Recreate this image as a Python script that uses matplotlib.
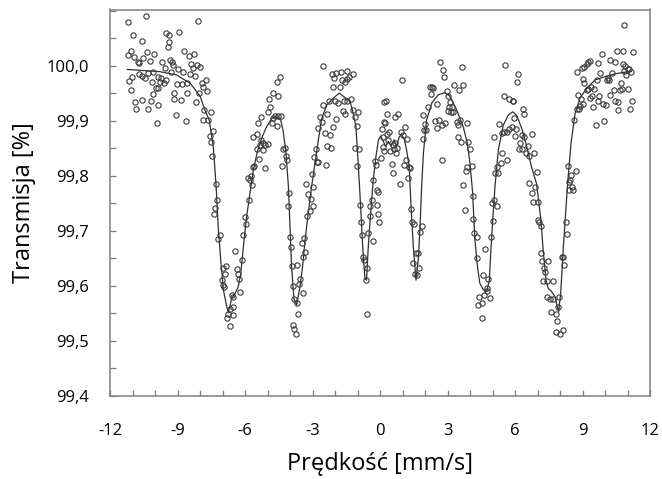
import matplotlib
matplotlib.use('Agg')
import matplotlib.pyplot as plt
from matplotlib.ticker import MultipleLocator, FuncFormatter
import numpy as np

v_a = [-11.19, -10.41, -8.07, -10.96, -9.51, -9.38, -8.93, -10.56, -9.39, -9.44,
       -8.71, -11.05, -11.19, -10.37, -10.03, -10.92, -10.52, -8.47, -8.25, -10.77,
       -10.70, -10.24, -9.67, -9.35, -9.26, -9.19, -8.39, -8.15, -8.00, -8.33,
       -9.56, -8.96, -8.74, -8.44, -8.21, -9.30, -10.07, -10.33, -10.71, -10.56,
       -10.46, -11.01, -11.16, -9.88, -9.73, -9.51, -9.78, -9.59, -10.15, -9.02,
       -8.80, -8.56, -7.93, -7.85, -9.97, -9.85, -10.10, -11.08, -9.16, -8.56,
       -8.03, -10.87, -10.59, -10.18, -9.14, -8.86, -8.18, -10.83, -10.30, -9.87,
       -9.07, -8.62, -7.85, -9.93]
t_a = [100.080, 100.091, 100.082, 100.055, 100.060, 100.056, 100.062, 100.044, 100.043, 100.033,
       100.027, 100.027, 100.019, 100.025, 100.021, 100.015, 100.013, 100.018, 100.021, 100.007,
       100.004, 100.008, 100.007, 100.010, 100.006, 100.002, 100.003, 100.001, 99.997, 99.995,
       99.995, 99.994, 99.989, 99.985, 99.982, 99.989, 99.988, 99.986, 99.984, 99.981,
       99.978, 99.980, 99.972, 99.980, 99.977, 99.974, 99.971, 99.969, 99.970, 99.967,
       99.967, 99.968, 99.968, 99.961, 99.959, 99.959, 99.948, 99.955, 99.951, 99.951,
       99.950, 99.933, 99.937, 99.935, 99.939, 99.938, 99.933, 99.922, 99.921, 99.928,
       99.910, 99.900, 99.902, 99.895]

v_b = [-7.73, -7.70, -7.82, -7.51, -7.64, -7.41, -7.56, -7.51, -7.47, -7.29,
       -7.26, -7.33, -7.36, -7.11, -7.19, -6.96, -6.84, -7.04, -6.89, -6.99,
       -6.93, -6.44, -6.37, -6.30, -6.25, -6.22, -6.59, -6.52, -6.52, -6.67,
       -6.74, -6.79, -6.52, -6.67, -6.07, -6.15, -5.97, -6.00, -5.81, -5.78,
       -5.85, -5.70, -5.75, -5.63, -5.59, -5.36, -5.48, -5.66, -5.45, -5.27,
       -5.19, -5.33, -5.21, -5.11, -4.99, -5.11, -5.41, -5.29, -4.96, -4.89,
       -4.92, -4.74, -4.52, -4.59, -4.44, -4.81, -4.77, -4.67, -4.55, -4.40,
       -4.59, -4.33, -4.22, -4.18, -4.12, -4.36, -4.03, -4.07, -4.00, -3.97,
       -3.93, -3.88, -3.81, -3.88, -3.82]
t_b = [99.974, 99.953, 99.919, 99.916, 99.902, 99.882, 99.872, 99.862, 99.836, 99.785,
       99.755, 99.742, 99.730, 99.692, 99.685, 99.633, 99.635, 99.610, 99.621, 99.601,
       99.598, 99.663, 99.630, 99.622, 99.613, 99.589, 99.583, 99.579, 99.562, 99.557,
       99.548, 99.542, 99.547, 99.527, 99.692, 99.647, 99.712, 99.725, 99.756, 99.792,
       99.795, 99.783, 99.799, 99.816, 99.818, 99.830, 99.848, 99.870, 99.875, 99.865,
       99.860, 99.855, 99.847, 99.856, 99.858, 99.813, 99.896, 99.907, 99.915, 99.925,
       99.939, 99.951, 99.944, 99.971, 99.980, 99.895, 99.904, 99.908, 99.908, 99.908,
       99.890, 99.848, 99.850, 99.836, 99.828, 99.818, 99.768, 99.744, 99.688, 99.670,
       99.635, 99.599, 99.575, 99.528, 99.522]

v_c = [-3.70, -3.63, -3.73, -3.67, -3.56, -3.59, -3.44, -3.48, -3.38, -3.33,
       -3.41, -3.23, -3.11, -2.96, -3.08, -3.19, -3.29, -2.99, -3.04, -2.93,
       -2.81, -2.84, -2.74, -2.40, -2.37, -2.19, -2.44, -2.22, -2.07, -2.74,
       -2.67, -2.59, -2.34, -1.96, -2.52, -2.25, -2.00, -1.85, -1.63, -1.56,
       -1.60, -1.45, -1.29, -1.19, -0.96, -1.11, -2.07, -1.78, -1.70, -1.56,
       -1.45, -1.36, -1.19, -1.45, -1.75, -1.96, -2.15, -2.03, -2.55, -1.04,
       -1.11, -0.92, -1.01, -0.89, -0.84, -0.79, -0.74, -0.70, -0.56, -0.62,
       -0.59, -0.52, -0.44, -0.37, -0.44, -0.33, -0.30, -0.15, -0.10, -0.15,
       -0.07, -0.03, -0.22, -0.18, 0.03, 0.12, 0.07, 0.19, 0.19]
t_c = [99.568, 99.548, 99.513, 99.638, 99.612, 99.603, 99.587, 99.677, 99.686, 99.662,
       99.653, 99.727, 99.736, 99.745, 99.757, 99.767, 99.785, 99.780, 99.803, 99.833,
       99.825, 99.848, 99.824, 99.819, 99.853, 99.850, 99.877, 99.874, 99.888, 99.886,
       99.907, 99.898, 99.912, 99.903, 99.928, 99.935, 99.935, 99.932, 99.918, 99.912,
       99.936, 99.936, 99.939, 99.919, 99.916, 99.906, 99.962, 99.962, 99.974, 99.971,
       99.975, 99.979, 99.984, 99.991, 99.988, 99.986, 99.984, 99.977, 99.999, 99.890,
       99.850, 99.848, 99.818, 99.747, 99.715, 99.692, 99.652, 99.647, 99.632, 99.610,
       99.548, 99.696, 99.727, 99.755, 99.744, 99.682, 99.792, 99.774, 99.771, 99.747,
       99.730, 99.716, 99.827, 99.819, 99.832, 99.852, 99.884, 99.898, 99.933]

v_d = [0.27, 0.33, 0.22, 0.30, 0.41, 0.15, 0.37, 0.18, 0.44, 0.56,
       0.67, 0.62, 0.71, 0.77, 0.67, 0.81, 0.96, 0.92, 1.01, 1.11,
       1.19, 0.52, 0.56, 0.89, 1.07, 1.16, 1.30, 1.33, 1.26, 1.38,
       1.41, 1.51, 1.45, 1.60, 1.67, 1.56, 1.63, 1.75, 1.78, 1.85,
       1.90, 1.96, 2.04, 2.00, 1.90, 2.15, 2.22, 2.30, 2.34, 2.25,
       2.44, 2.52, 2.55, 2.64, 2.74, 2.89, 2.74, 2.67, 2.81, 2.86,
       2.96, 3.04, 3.11, 3.19, 3.08, 3.04, 3.16, 3.26, 3.29, 3.51,
       3.67, 3.63, 3.41, 3.56, 3.48, 3.85, 3.45, 3.59, 3.93, 4.00,
       4.07, 3.88, 3.82, 3.70, 4.12, 3.78, 4.15, 4.19]
t_d = [99.935, 99.912, 99.896, 99.876, 99.879, 99.871, 99.865, 99.845, 99.845, 99.856,
       99.859, 99.848, 99.842, 99.850, 99.907, 99.912, 99.974, 99.879, 99.874, 99.889,
       99.866, 99.821, 99.804, 99.785, 99.819, 99.828, 99.816, 99.813, 99.795, 99.739,
       99.716, 99.713, 99.641, 99.659, 99.659, 99.622, 99.619, 99.633, 99.698, 99.708,
       99.866, 99.883, 99.883, 99.893, 99.910, 99.925, 99.961, 99.962, 99.959, 99.948,
       99.900, 99.886, 99.930, 99.901, 99.892, 99.896, 99.828, 100.007, 99.992, 99.979,
       99.953, 99.945, 99.933, 99.925, 99.924, 99.918, 99.916, 99.915, 99.965, 99.956,
       99.965, 99.997, 99.898, 99.902, 99.892, 99.896, 99.870, 99.862, 99.862, 99.848,
       99.818, 99.816, 99.809, 99.783, 99.763, 99.738, 99.722, 99.695]

v_e = [4.30, 4.30, 4.56, 4.67, 4.41, 4.37, 4.52, 4.62, 4.74, 4.77,
       4.81, 4.89, 4.52, 4.92, 5.01, 4.96, 5.07, 5.21, 5.11, 5.19,
       5.26, 5.36, 5.41, 5.07, 5.30, 5.41, 5.51, 5.63, 5.66, 5.75,
       5.85, 5.97, 6.04, 6.00, 5.51, 5.75, 5.90, 5.93, 5.56, 6.15,
       6.10, 6.30, 6.40, 6.37, 6.40, 6.74, 6.22, 6.19, 6.30, 6.59,
       6.49, 6.64, 6.86, 6.96, 6.64, 6.89, 6.77, 6.81, 7.01, 7.04,
       7.08, 7.14, 7.16, 7.21, 7.48, 7.29, 7.33, 7.26, 7.41, 7.70,
       7.44, 7.56, 7.70, 7.97, 7.59, 7.82, 7.93, 7.88, 7.82, 8.00,
       8.12, 8.07, 8.15, 8.18]
t_e = [99.689, 99.650, 99.619, 99.666, 99.579, 99.564, 99.568, 99.583, 99.595, 99.591,
       99.613, 99.577, 99.541, 99.688, 99.718, 99.751, 99.755, 99.744, 99.805, 99.816,
       99.804, 99.823, 99.842, 99.871, 99.894, 99.877, 99.880, 99.880, 99.828, 99.884,
       99.889, 99.905, 99.884, 99.872, 99.944, 99.939, 99.936, 99.935, 100.001, 99.984,
       99.970, 99.874, 99.870, 99.921, 99.912, 99.876, 99.859, 99.848, 99.848, 99.853,
       99.841, 99.836, 99.842, 99.807, 99.787, 99.779, 99.769, 99.752, 99.752, 99.719,
       99.715, 99.708, 99.660, 99.644, 99.645, 99.633, 99.625, 99.609, 99.609, 99.609,
       99.579, 99.575, 99.575, 99.579, 99.553, 99.548, 99.561, 99.535, 99.515, 99.512,
       99.519, 99.652, 99.652, 99.638]

v_f = [8.30, 8.27, 8.40, 8.55, 8.34, 8.49, 8.44, 8.40, 8.70, 8.59,
       8.64, 8.74, 8.84, 8.81, 8.93, 9.04, 8.89, 9.19, 9.04, 9.08,
       8.77, 8.99, 9.08, 9.19, 9.26, 9.33, 9.70, 9.85, 9.78, 9.38,
       9.26, 9.33, 9.41, 9.53, 9.63, 9.73, 9.67, 9.48, 9.59, 9.93,
       10.03, 9.97, 10.12, 10.18, 10.07, 10.22, 10.44, 10.52, 10.81, 11.23,
       10.86, 10.33, 10.41, 10.22, 10.44, 10.56, 10.59, 10.67, 10.71, 10.74,
       11.01, 10.81, 10.89, 10.86, 11.01, 10.93, 11.16, 11.07, 11.21, 11.11]
t_f = [99.694, 99.716, 99.774, 99.780, 99.818, 99.801, 99.792, 99.789, 99.809, 99.774,
       99.901, 99.921, 99.922, 99.947, 99.939, 99.930, 99.926, 99.956, 99.975, 99.969,
       99.988, 99.995, 99.997, 100.003, 100.007, 100.009, 100.005, 100.021, 99.987, 99.962,
       99.957, 99.942, 99.945, 99.957, 99.974, 99.944, 99.935, 99.925, 99.892, 99.930,
       99.928, 99.900, 99.977, 99.974, 99.974, 100.011, 100.007, 100.027, 100.027, 100.024,
       100.074, 99.987, 99.956, 99.947, 99.935, 99.933, 99.919, 99.956, 99.968, 99.957,
       99.957, 100.003, 99.999, 99.991, 99.993, 99.983, 99.989, 99.993, 99.936, 99.921]

# fitted curve
fit_v = [-11.23, -10.5, -9.78, -9.04, -8.44, -8.0, -7.78, -7.59, -7.41, -7.29,
         -7.19, -7.08, -6.96, -6.81, -6.74, -6.59, -6.44, -6.30, -6.19, -6.07,
         -5.93, -5.78, -5.63, -5.45, -5.26, -5.04, -4.81, -4.59, -4.41, -4.30,
         -4.18, -4.07, -4.00, -3.93, -3.82, -3.70, -3.56, -3.44, -3.33, -3.19,
         -3.04, -2.89, -2.74, -2.59, -2.37, -2.07, -1.81, -1.56, -1.33, -1.19,
         -1.07, -0.96, -0.86, -0.77, -0.67, -0.60, -0.52, -0.44, -0.30, -0.18,
         -0.07, 0.03, 0.15, 0.25, 0.37, 0.49, 0.62, 0.74, 0.86, 0.96,
         1.08, 1.18, 1.30, 1.38, 1.48, 1.60, 1.70, 1.78, 1.85, 1.93,
         2.07, 2.30, 2.59, 2.89, 3.11, 3.41, 3.70, 3.88, 4.00, 4.12,
         4.15, 4.22, 4.33, 4.44, 4.59, 4.74, 4.86, 4.92, 5.01, 5.11,
         5.26, 5.48, 5.70, 5.90, 6.07, 6.30, 6.52, 6.74, 6.96, 7.15,
         7.26, 7.38, 7.48, 7.63, 7.78, 7.88, 7.94, 8.03, 8.09, 8.15,
         8.22, 8.34, 8.49, 8.67, 8.89, 9.19, 9.56, 10.0, 10.44, 10.89,
         11.16]
fit_t = [99.993, 99.991, 99.989, 99.983, 99.968, 99.945, 99.919, 99.901, 99.853, 99.785,
         99.707, 99.647, 99.592, 99.562, 99.551, 99.577, 99.586, 99.598, 99.622, 99.671,
         99.725, 99.768, 99.810, 99.844, 99.868, 99.889, 99.904, 99.907, 99.901, 99.880,
         99.841, 99.780, 99.707, 99.635, 99.575, 99.565, 99.598, 99.635, 99.683, 99.732,
         99.780, 99.822, 99.865, 99.904, 99.928, 99.941, 99.950, 99.942, 99.935, 99.913,
         99.889, 99.816, 99.744, 99.671, 99.613, 99.610, 99.671, 99.719, 99.792, 99.835,
         99.865, 99.872, 99.862, 99.853, 99.862, 99.854, 99.865, 99.854, 99.871, 99.874,
         99.866, 99.847, 99.816, 99.744, 99.671, 99.610, 99.647, 99.707, 99.780, 99.841,
         99.901, 99.932, 99.947, 99.951, 99.944, 99.919, 99.889, 99.859, 99.822, 99.768,
         99.740, 99.683, 99.635, 99.604, 99.593, 99.589, 99.610, 99.659, 99.719, 99.780,
         99.847, 99.892, 99.910, 99.916, 99.910, 99.886, 99.853, 99.815, 99.785, 99.720,
         99.660, 99.610, 99.595, 99.589, 99.580, 99.562, 99.553, 99.586, 99.628, 99.671,
         99.713, 99.786, 99.859, 99.913, 99.941, 99.959, 99.974, 99.980, 99.985, 99.988,
         99.990]

v = v_a + v_b + v_c + v_d + v_e + v_f
t = t_a + t_b + t_c + t_d + t_e + t_f

plt.rcParams['font.family'] = ['Open Sans', 'DejaVu Sans']

fig = plt.figure(figsize=(6.62, 4.79), dpi=100)
ax = fig.add_axes([110 / 662, 1 - 395.7 / 479, 540 / 662, 386.2 / 479])

ax.plot(fit_v, fit_t, color='#303030', lw=0.9, zorder=2)
ax.plot(v, t, 'o', ms=3.8, mfc='none', mec='#3a3a3a', mew=0.8, zorder=3)

ax.set_xlim(-12, 12)
ax.set_ylim(99.4, 100.102)
ax.xaxis.set_major_locator(MultipleLocator(3))
ax.xaxis.set_minor_locator(MultipleLocator(1))
ax.yaxis.set_major_locator(MultipleLocator(0.1))
ax.yaxis.set_minor_locator(MultipleLocator(0.05))
ax.xaxis.set_major_formatter(FuncFormatter(lambda x, _: f'{int(round(x))}'))
ax.yaxis.set_major_formatter(
    FuncFormatter(lambda y, _: '' if y > 100.05 else f'{y:.1f}'.replace('.', ',')))

ax.tick_params(which='both', direction='in', length=4, width=0.9, color='#7f7f7f')
ax.tick_params(axis='x', labelsize=12, pad=20)
ax.tick_params(axis='y', labelsize=12, pad=15)
for s in ax.spines.values():
    s.set_color('#808080')
    s.set_linewidth(1.1)

ax.set_xlabel('Prędkość [mm/s]', fontsize=17, labelpad=9)
ax.set_ylabel('Transmisja [%]', fontsize=17, labelpad=8)

fig.savefig('out.png', dpi=100)
